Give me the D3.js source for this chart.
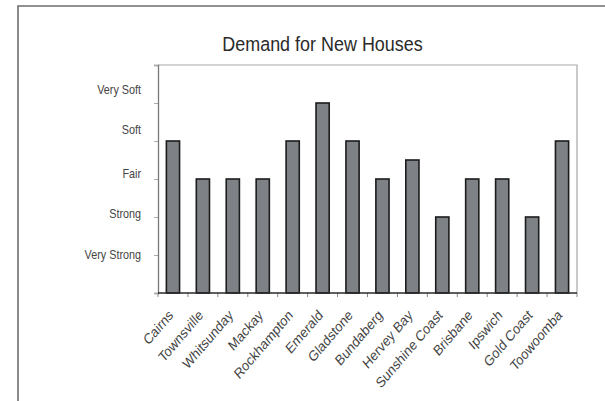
<!DOCTYPE html>
<html>
<head>
<meta charset="utf-8">
<script src="https://cdn.jsdelivr.net/npm/d3@7"></script>
<style>
  body { margin: 0; background: #fff; }
  svg { display: block; }
</style>
</head>
<body>
<svg id="chart"></svg>
<script>
// data
const towns = ["Cairns", "Townsville", "Whitsunday", "Mackay", "Rockhampton", "Emerald",
    "Gladstone", "Bundaberg", "Hervey Bay", "Sunshine Coast", "Brisbane", "Ipswich",
    "Gold Coast", "Toowoomba"];
const demand = [4, 3, 3, 3, 4, 5, 4, 3, 3.5, 2, 3, 3, 2, 4];
const levelNames = ["Very Strong", "Strong", "Fair", "Soft", "Very Soft"];
const levelPos = [1, 2.1, 3.15, 4.3, 5.35];   // where the text labels sit on the value axis
const yTicks = [0, 1, 2, 3, 4, 5, 6];

const width = 605,
    height = 401,
    plotLeft = 158,
    plotRight = 577,
    plotTop = 65,
    plotBottom = 293,
    stretch = 1.14;   // the original picture is a bit taller than wide

const svg = d3.select("#chart")
    .attr("width", width)
    .attr("height", height);

// outer frame
svg.append("path")
    .attr("d", `M18,${height + 5}V6H${width + 5}`)
    .attr("fill", "none")
    .attr("stroke", "#6e6e6e")
    .attr("stroke-width", 1.6);

const x = d3.scaleBand()
    .domain(towns)
    .range([plotLeft, plotRight])
    .paddingInner(0.56)
    .paddingOuter(0.28);

const y = d3.scaleLinear()
    .domain([0, 6])
    .range([plotBottom, plotTop]);

// title
svg.append("text")
    .attr("transform", `translate(322.5,51) scale(0.97,${stretch})`)
    .attr("text-anchor", "middle")
    .attr("font-family", "Liberation Sans, Arial, sans-serif")
    .attr("font-size", 18.5)
    .attr("fill", "#2a2a2a")
    .text("Demand for New Houses");

// plot frame: top and right
svg.append("path")
    .attr("d", `M${plotLeft},${plotTop}H${plotRight}V${plotBottom}`)
    .attr("fill", "none")
    .attr("stroke", "#a8a8a8")
    .attr("stroke-width", 1.2);

// y axis
const yAxis = svg.append("g")
    .attr("transform", `translate(${plotLeft},0)`)
    .call(d3.axisLeft(y).tickValues(yTicks).tickSize(4).tickFormat(""));
yAxis.select(".domain").attr("stroke", "#777").attr("stroke-width", 1.3);
yAxis.selectAll(".tick line").attr("stroke", "#aaa");

// level labels
svg.append("g")
    .selectAll("text")
    .data(levelNames)
    .join("text")
    .attr("transform", (d, i) => `translate(141,${y(levelPos[i])}) scale(1,${stretch})`)
    .attr("dy", "0.35em")
    .attr("text-anchor", "end")
    .attr("font-family", "Liberation Sans, Arial, sans-serif")
    .attr("font-size", 10.8)
    .attr("fill", "#444")
    .text(d => d);

// bars
svg.append("g")
    .selectAll("rect")
    .data(demand)
    .join("rect")
    .attr("x", (d, i) => x(towns[i]))
    .attr("y", d => y(d))
    .attr("width", x.bandwidth())
    .attr("height", d => plotBottom - y(d))
    .attr("fill", "#7e8286")
    .attr("stroke", "#1c1c1c")
    .attr("stroke-width", 1.6);

// x axis: line plus ticks between categories
const bounds = towns.map(t => x(t) - x.step() * x.paddingOuter()).concat([plotRight]);
svg.append("g")
    .selectAll("line")
    .data(bounds)
    .join("line")
    .attr("x1", d => d)
    .attr("x2", d => d)
    .attr("y1", plotBottom)
    .attr("y2", plotBottom + 4)
    .attr("stroke", "#888");

svg.append("line")
    .attr("x1", plotLeft)
    .attr("x2", plotRight)
    .attr("y1", plotBottom)
    .attr("y2", plotBottom)
    .attr("stroke", "#2a2a2a")
    .attr("stroke-width", 1.6);

// category labels
svg.append("g")
    .selectAll("text")
    .data(towns)
    .join("text")
    .attr("transform", d => `translate(${x(d) + x.bandwidth() / 2 + 1},316) scale(1,${stretch + 0.03}) rotate(-45)`)
    .attr("text-anchor", "end")
    .attr("font-family", "Liberation Sans, Arial, sans-serif")
    .attr("font-size", 12.5)
    .attr("fill", "#444")
    .text(d => d);
</script>
</body>
</html>
